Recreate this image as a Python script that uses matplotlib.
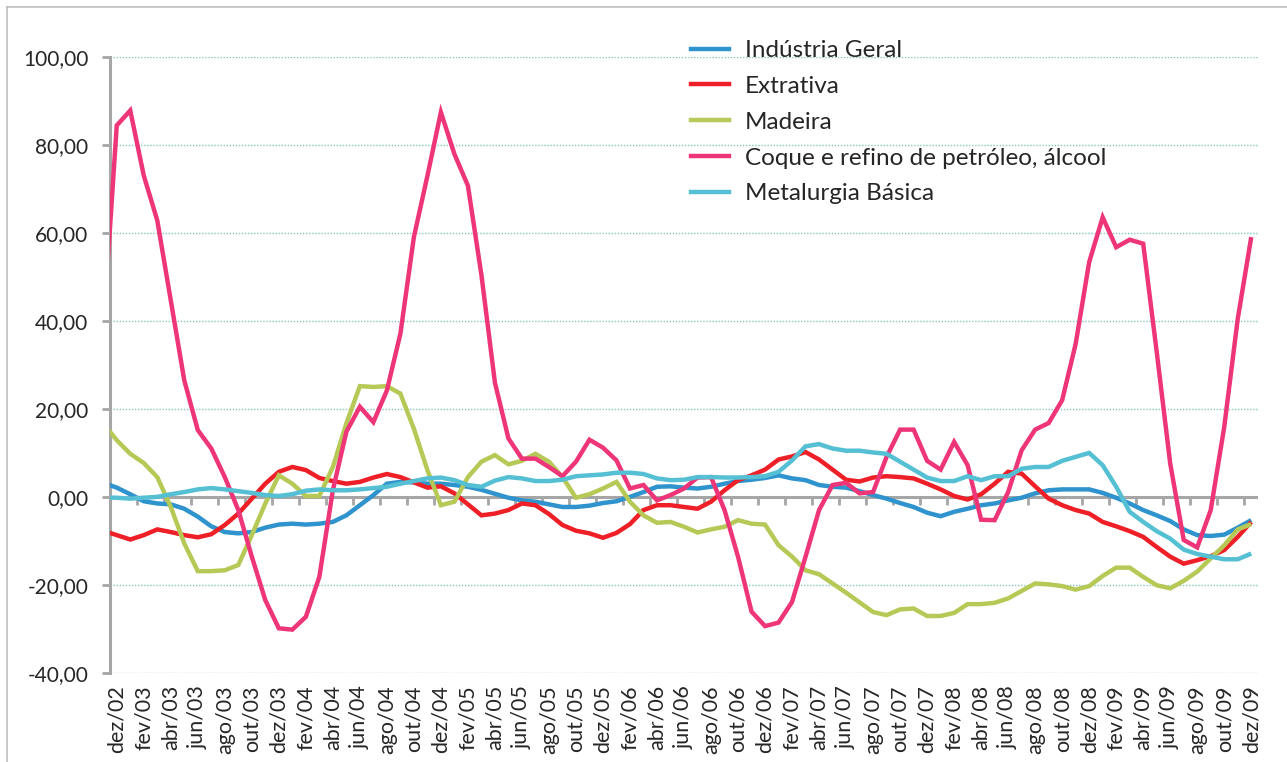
import numpy as np
import matplotlib
matplotlib.use('Agg')
import matplotlib.pyplot as plt
from matplotlib.lines import Line2D

plt.rcParams['font.family'] = ['Lato', 'DejaVu Sans']

# monthly series, nov/02 .. dez/09 (the nov/02 point only shows as the
# line entering from the left edge of the plot)
MONTH_NAMES = ['jan', 'fev', 'mar', 'abr', 'mai', 'jun',
               'jul', 'ago', 'set', 'out', 'nov', 'dez']

industria_geral = [
    3.2, 2.1, 0.6, -1.0, -1.5, -1.7, -2.7, -4.5, -6.7, -8.0, -8.3,
    -8.0, -7.0, -6.3, -6.1, -6.3, -6.1, -5.7, -4.2, -1.9, 0.4,
    3.0, 3.4, 3.3, 3.0, 3.0, 2.7, 2.3, 1.6, 0.7, -0.2,
    -0.8, -1.1, -1.7, -2.3, -2.3, -2.0, -1.4, -1.0, 0.0, 1.1,
    2.3, 2.4, 2.1, 1.9, 2.3, 3.0, 3.6, 3.9, 4.3, 4.9,
    4.2, 3.8, 2.7, 2.3, 2.1, 1.3, 0.4, -0.4, -1.4, -2.3,
    -3.6, -4.4, -3.4, -2.7, -1.9, -1.5, -0.8, -0.2, 0.8, 1.5,
    1.7, 1.7, 1.7, 0.9, -0.2, -1.5, -3.0, -4.2, -5.5, -7.4,
    -8.7, -8.9, -8.6, -7.0, -5.3,
]
extrativa = [
    -7.7, -8.7, -9.7, -8.7, -7.4, -8.0, -8.7, -9.2, -8.5, -6.4, -3.8,
    -0.4, 3.0, 5.7, 6.8, 6.1, 4.3, 3.6, 3.0, 3.4, 4.4,
    5.2, 4.5, 3.3, 2.1, 2.4, 0.8, -1.7, -4.2, -3.8, -3.0,
    -1.5, -1.9, -3.9, -6.4, -7.7, -8.3, -9.3, -8.2, -6.2, -3.0,
    -1.9, -1.9, -2.3, -2.7, -1.1, 1.5, 3.8, 4.9, 6.2, 8.5,
    9.2, 10.2, 8.5, 6.2, 3.9, 3.5, 4.4, 4.7, 4.5, 4.2,
    3.0, 1.7, 0.2, -0.6, 0.6, 3.0, 5.7, 5.3, 2.4, -0.4,
    -1.9, -3.0, -3.8, -5.7, -6.7, -7.8, -9.1, -11.4, -13.6, -15.2,
    -14.4, -13.5, -12.1, -9.1, -5.7,
]
madeira = [
    16.7, 12.9, 9.8, 7.7, 4.5, -2.3, -10.6, -16.9, -16.9, -16.7, -15.5,
    -8.7, -1.5, 4.9, 3.0, 0.2, 0.2, 6.8, 16.7, 25.2, 25.0,
    25.2, 23.5, 15.5, 6.1, -1.9, -1.1, 4.5, 8.0, 9.5, 7.4,
    8.2, 9.8, 8.0, 4.5, -0.2, 0.6, 1.9, 3.4, -1.1, -4.2,
    -5.9, -5.7, -6.8, -8.1, -7.4, -6.8, -5.3, -6.1, -6.3, -11.0,
    -13.6, -16.7, -17.6, -19.7, -21.8, -24.0, -26.2, -26.9, -25.6, -25.4,
    -27.1, -27.1, -26.4, -24.4, -24.4, -24.1, -23.1, -21.4, -19.7, -19.9,
    -20.3, -21.1, -20.3, -18.0, -16.1, -16.1, -18.2, -20.1, -20.8, -19.1,
    -17.0, -14.0, -11.0, -7.4, -6.2,
]
coque_petroleo = [
    38.1, 84.5, 87.9, 73.1, 62.9, 44.7, 26.5, 15.2, 11.0, 4.5, -3.0,
    -13.6, -23.5, -29.9, -30.2, -27.3, -18.2, 1.5, 14.8, 20.5, 17.0,
    24.2, 37.1, 59.1, 73.0, 87.5, 78.0, 70.8, 50.5, 26.0, 13.3,
    8.7, 8.7, 6.8, 4.7, 8.0, 13.0, 11.2, 8.3, 1.9, 2.7,
    -0.8, 0.4, 1.9, 4.4, 4.5, -3.0, -13.6, -26.1, -29.4, -28.6,
    -23.9, -13.6, -3.0, 2.7, 3.2, 0.8, 1.1, 9.1, 15.3, 15.3,
    8.2, 6.2, 12.5, 7.2, -5.2, -5.3, 1.1, 10.6, 15.3, 16.8,
    22.0, 34.8, 53.4, 63.6, 56.8, 58.5, 57.6, 33.0, 7.6, -9.8,
    -11.5, -3.0, 15.9, 40.5, 59.1,
]
metalurgia = [
    -0.1, -0.2, -0.4, -0.2, 0.0, 0.6, 1.1, 1.7, 2.0, 1.7, 1.3,
    0.9, 0.4, 0.2, 0.6, 1.4, 1.7, 1.5, 1.5, 1.7, 2.0,
    2.3, 3.0, 3.6, 4.2, 4.4, 3.8, 2.7, 2.3, 3.7, 4.5,
    4.2, 3.6, 3.6, 3.9, 4.7, 4.9, 5.1, 5.5, 5.5, 5.2,
    4.2, 3.8, 3.9, 4.5, 4.5, 4.4, 4.4, 4.5, 4.7, 5.7,
    8.3, 11.5, 12.0, 11.0, 10.5, 10.5, 10.1, 9.8, 8.0, 6.2,
    4.4, 3.6, 3.6, 4.7, 3.8, 4.7, 4.7, 6.4, 6.8, 6.8,
    8.2, 9.1, 10.0, 7.2, 2.3, -3.4, -5.7, -7.8, -9.5, -12.0,
    -13.0, -13.6, -14.2, -14.2, -12.9,
]

series = [
    ('Indústria Geral', industria_geral, '#2f93cd'),
    ('Extrativa', extrativa, '#ee1f26'),
    ('Madeira', madeira, '#b6c956'),
    ('Coque e refino de petróleo, álcool', coque_petroleo, '#ee3577'),
    ('Metalurgia Básica', metalurgia, '#55bfd3'),
]

months = []
for k in range(len(industria_geral)):
    m = (10 + k) % 12
    yy = 2 + (10 + k) // 12
    months.append(f'{MONTH_NAMES[m]}/{yy:02d}')

x = np.arange(len(months))
label_pos = x[1::2]
labels = [months[k] for k in label_pos]

GRAY = '#a6a6a6'
TEXT = '#262626'
Y_MIN, Y_MAX = -40, 100

fig = plt.figure(figsize=(12.87, 7.62), dpi=100)
ax = fig.add_axes([110 / 1287, 1 - 672.7 / 762, 1148 / 1287, 615.4 / 762])

for name, values, color in series:
    ax.plot(x, values, color=color, lw=3.2, label=name,
            solid_joinstyle='miter', solid_capstyle='butt', zorder=3)

ax.set_xlim(0.5, len(months) - 0.5)
ax.set_ylim(Y_MIN, Y_MAX)

yticks = np.arange(Y_MIN, Y_MAX + 1, 20)
ax.set_yticks(yticks)
ax.set_yticklabels([f'{v:.2f}'.replace('.', ',') for v in yticks],
                   fontsize=15, color=TEXT)
for v in yticks:
    if v != 0:
        ax.axhline(v, color='#86c7bb', lw=1.0, ls=(0, (1, 1.2)), zorder=1)
ax.axhline(0, color=GRAY, lw=2.2, zorder=2)

ax.set_xticks(label_pos)
ax.set_xticklabels(labels, rotation=90, fontsize=15.5, color=TEXT)
ax.tick_params(axis='x', length=0, pad=9)
ax.tick_params(axis='y', length=6, width=2, color=GRAY, pad=9.5,
               direction='out')

for side in ['top', 'right', 'bottom']:
    ax.spines[side].set_visible(False)
ax.spines['left'].set_color(GRAY)
ax.spines['left'].set_linewidth(2.2)

# category tick marks sit on the zero line
zero_loc = (0 - Y_MIN) / (Y_MAX - Y_MIN)
sec = ax.secondary_xaxis(zero_loc)
sec.set_xticks(x[2:-1:2] + 0.5)
sec.set_xticklabels([])
sec.tick_params(length=6, width=2, color=GRAY, direction='out')
sec.spines['bottom'].set_visible(False)

handles = [Line2D([], [], color=c, lw=3.2) for _, _, c in series]
fig.legend(handles, [s[0] for s in series], loc='upper left',
           bbox_to_anchor=(691 / 1287, 1 - 40 / 762),
           bbox_transform=fig.transFigure, frameon=False,
           fontsize=17.5, handlelength=1.56, handletextpad=0.66,
           labelspacing=0.61, borderpad=0, borderaxespad=0,
           labelcolor=TEXT)

# outer frame: only the left and top edges are inside the picture
fig.add_artist(Line2D([7 / 1287, 7 / 1287], [0, 1 - 7 / 762],
                      transform=fig.transFigure, color='#bfbfbf', lw=1.2))
fig.add_artist(Line2D([7 / 1287, 1], [1 - 7 / 762, 1 - 7 / 762],
                      transform=fig.transFigure, color='#bfbfbf', lw=1.2))

fig.savefig('out.png', dpi=100)
